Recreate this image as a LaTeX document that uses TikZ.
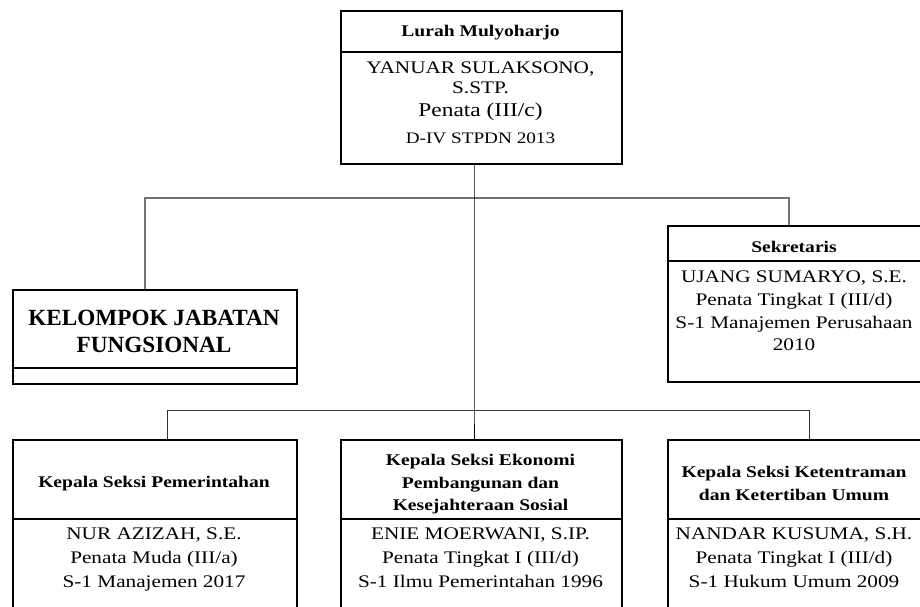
\documentclass[tikz,border=0pt]{standalone}
\usepackage{fontspec}
\setmainfont{Liberation Serif}[FakeStretch=1.2]
\newfontfamily\kjffont{Liberation Serif}
\usetikzlibrary{calc}
\tikzset{
  box/.style={draw=black, line width=2pt, inner sep=0pt, anchor=north west},
  divider/.style={draw=black, line width=1.8pt},
  hdr/.style={anchor=base, inner sep=0pt, font=\bfseries\fontsize{16.3}{18}\selectfont},
  bodytxt/.style={anchor=base, inner sep=0pt, font=\fontsize{17.7}{20}\selectfont},
  bigtxt/.style={anchor=base, inner sep=0pt, font=\kjffont\bfseries\fontsize{23.2}{28}\selectfont},
  busgray/.style={draw=black!55, line width=1.5pt},
  busdark/.style={draw=black!80, line width=1pt},
  stem/.style={draw=black, line width=1pt}
}
\begin{document}
\begin{tikzpicture}[x=1pt,y=-1pt]
\useasboundingbox (0,0) rectangle (920,607);
\clip (0,0) rectangle (920,607);
\fill[white] (0,0) rectangle (920,607);

% boxes
\node[box, minimum width=281pt, minimum height=153pt] (lurah) at (340,10) {};
\node[box, minimum width=284pt, minimum height=94pt] (kjf) at (12,289) {};
\node[box, minimum width=256pt, minimum height=156pt] (sek) at (667,225) {};
\node[box, minimum width=284pt, minimum height=200pt] (b1) at (12,439) {};
\node[box, minimum width=281pt, minimum height=200pt] (b2) at (340,439) {};
\node[box, minimum width=256pt, minimum height=200pt] (b3) at (667,439) {};

% dividers
\draw[divider] (340,52) -- (621,52);
\draw[divider] (12,368) -- (296,368);
\draw[divider] (667,261) -- (923,261);
\draw[divider] (12,519) -- (296,519);
\draw[divider] (340,519) -- (621,519);
\draw[divider] (667,519) -- (923,519);

% connector coordinates
\coordinate (upL) at (145,198);
\coordinate (upR) at (789,198);
\coordinate (loL) at (167,410);
\coordinate (loR) at (809,410);
\coordinate (loM) at (474,410);

% connectors
\draw[busgray] (kjf.north -| upL) -- (upL) -- (upR) -- (sek.north -| upR);
\draw[busdark] (b1.north -| loL) -- (loL) -- (loR) -- (b3.north -| loR);
\draw[stem] (lurah.south -| loM) -- (loM) -- (b2.north -| loM);

% top box text
\node[hdr] (t0) at (480.5,37) {Lurah Mulyoharjo};
\node[bodytxt] (t1) at (480.5,74) {YANUAR SULAKSONO,};
\node[bodytxt] (t2) at (480.5,94) {S.STP.};
\node[bodytxt, font=\fontsize{19.5}{24}\selectfont] (t3) at (480.5,117) {Penata (III/c)};
\node[bodytxt, font=\fontsize{16}{18}\selectfont] (t4) at (480.5,143) {D-IV STPDN 2013};

% KJF text
\node[bigtxt] (k1) at (154,325) {KELOMPOK JABATAN};
\node[bigtxt] (k2) at (154,352) {FUNGSIONAL};

% Sekretaris text
\node[hdr] (s0) at (794,252) {Sekretaris};
\node[bodytxt] (s1) at (794,282) {UJANG SUMARYO, S.E.};
\node[bodytxt] (s2) at (794,305) {Penata Tingkat I (III/d)};
\node[bodytxt] (s3) at (794,328) {S-1 Manajemen Perusahaan};
\node[bodytxt] (s4) at (794,350) {2010};

% bottom left
\node[hdr] (a0) at (154,487) {Kepala Seksi Pemerintahan};
\node[bodytxt] (a1) at (154,539) {NUR AZIZAH, S.E.};
\node[bodytxt] (a2) at (154,563) {Penata Muda (III/a)};
\node[bodytxt] (a3) at (154,587) {S-1 Manajemen 2017};

% bottom middle
\node[hdr] (m0) at (480.5,465) {Kepala Seksi Ekonomi};
\node[hdr] (m1) at (480.5,488) {Pembangunan dan};
\node[hdr] (m2) at (480.5,510) {Kesejahteraan Sosial};
\node[bodytxt] (m3) at (480.5,539) {ENIE MOERWANI, S.IP.};
\node[bodytxt] (m4) at (480.5,563) {Penata Tingkat I (III/d)};
\node[bodytxt] (m5) at (480.5,587) {S-1 Ilmu Pemerintahan 1996};

% bottom right
\node[hdr] (r0) at (794,477) {Kepala Seksi Ketentraman};
\node[hdr] (r1) at (794,500) {dan Ketertiban Umum};
\node[bodytxt] (r2) at (794,539) {NANDAR KUSUMA, S.H.};
\node[bodytxt] (r3) at (794,563) {Penata Tingkat I (III/d)};
\node[bodytxt] (r4) at (794,587) {S-1 Hukum Umum 2009};
\end{tikzpicture}
\end{document}
